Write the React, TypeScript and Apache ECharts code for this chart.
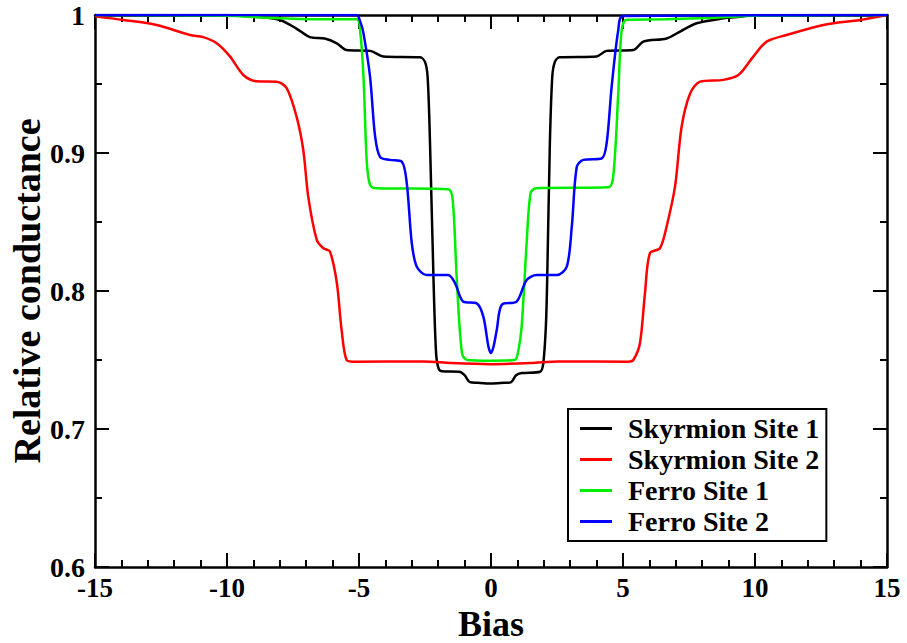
import React, { useEffect, useRef } from "react";
import * as echarts from "echarts";

const seriesNames = ["Skyrmion Site 1", "Skyrmion Site 2", "Ferro Site 1", "Ferro Site 2"];
const seriesColors = ["#000000", "#ff0000", "#00ee00", "#0000ff"];
const xTicks = [-15, -10, -5, 0, 5, 10, 15];
const yTicks = [0.6, 0.7, 0.8, 0.9, 1];

const skyrmion1: [number, number][] = [
  [-15, 1], [-10, 1], [-9, 0.9988], [-8, 0.9964], [-7.36, 0.99], [-6.86, 0.984], [-6.3, 0.983],
  [-5.84, 0.9795], [-5.47, 0.9746], [-4.58, 0.974], [-4.08, 0.97], [-2.69, 0.9693], [-2.5, 0.966],
  [-2.4, 0.955], [-2.31, 0.907], [-2.18, 0.81], [-2.08, 0.755], [-1.98, 0.7435], [-1.85, 0.7418],
  [-1.2, 0.7415], [-1.0, 0.739], [-0.8, 0.734], [-0.5, 0.7335], [0, 0.733], [0.5, 0.7335],
  [0.75, 0.7338], [0.95, 0.739], [1.16, 0.7405], [1.86, 0.7415], [1.98, 0.7476], [2.08, 0.775],
  [2.13, 0.81], [2.23, 0.907], [2.32, 0.955], [2.42, 0.966], [2.6, 0.9693], [4.0, 0.97],
  [4.38, 0.974], [5.39, 0.9746], [5.77, 0.9807], [6.65, 0.983], [7.16, 0.988], [7.79, 0.994],
  [8.8, 0.9976], [9.43, 0.9988], [10, 1], [15, 1],
];

const skyrmion2: [number, number][] = [
  [-15, 0.999], [-13.93, 0.9964], [-12.67, 0.9928], [-11.4, 0.9855], [-10.9, 0.984], [-10.39, 0.9795],
  [-9.89, 0.97], [-9.38, 0.9565], [-8.88, 0.952], [-8.12, 0.9517], [-7.74, 0.947], [-7.36, 0.926],
  [-7.11, 0.902], [-6.92, 0.868], [-6.6, 0.837], [-6.35, 0.831], [-6.1, 0.8285], [-5.84, 0.806],
  [-5.66, 0.772], [-5.47, 0.75], [-5.2, 0.7488], [-2.56, 0.749], [-1.5, 0.7478], [0, 0.747],
  [1.5, 0.7478], [2.56, 0.749], [5.2, 0.7488], [5.39, 0.75], [5.64, 0.762], [5.83, 0.798],
  [6.02, 0.8275], [6.4, 0.831], [6.65, 0.8466], [6.97, 0.8756], [7.22, 0.919], [7.54, 0.943],
  [7.92, 0.9517], [8.8, 0.953], [9.37, 0.9565], [9.94, 0.97], [10.44, 0.9807], [11.2, 0.9855],
  [12.59, 0.9928], [13.98, 0.9964], [15, 1],
];

const ferro1: [number, number][] = [
  [-15, 1], [-10, 0.9995], [-8.5, 0.998], [-6.6, 0.9969], [-5.08, 0.9969], [-4.96, 0.989],
  [-4.83, 0.955], [-4.71, 0.895], [-4.6, 0.878], [-4.45, 0.8747], [-1.62, 0.8737], [-1.45, 0.866],
  [-1.3, 0.81], [-1.1, 0.755], [-0.9, 0.75], [0, 0.7495], [0.9, 0.75], [1.02, 0.755], [1.16, 0.774],
  [1.35, 0.8346], [1.5, 0.871], [1.7, 0.8744], [4.44, 0.8751], [4.63, 0.883], [4.82, 0.943],
  [4.95, 0.989], [5.14, 0.9966], [6.6, 0.9969], [8.5, 0.998], [10, 0.9995], [15, 1],
];

const ferro2: [number, number][] = [
  [-15, 1], [-5.1, 1], [-4.95, 0.995], [-4.83, 0.9867], [-4.58, 0.955], [-4.39, 0.912], [-4.2, 0.897],
  [-3.83, 0.895], [-3.38, 0.8937], [-3.19, 0.878], [-3.0, 0.8346], [-2.81, 0.8176], [-2.44, 0.8116],
  [-1.62, 0.8116], [-1.36, 0.8056], [-1.05, 0.7923], [-0.54, 0.791], [-0.29, 0.7814], [-0.1, 0.76],
  [0, 0.755], [0.1, 0.76], [0.22, 0.772], [0.41, 0.79], [0.97, 0.7923], [1.35, 0.808], [1.73, 0.8116],
  [2.49, 0.8116], [2.87, 0.8176], [3.06, 0.8466], [3.25, 0.89], [3.5, 0.895], [4.19, 0.896],
  [4.38, 0.907], [4.57, 0.948], [4.82, 0.989], [5.0, 0.9993], [15, 1],
];

const seriesData = [skyrmion1, skyrmion2, ferro1, ferro2];

const FONT = "Liberation Serif, Times New Roman, serif";

export default function App() {
  const ref = useRef<HTMLDivElement>(null);
  useEffect(() => {
    if (!ref.current) return;
    const chart = echarts.init(ref.current, null, { renderer: "svg" });
    const axisLine = { show: true, onZero: false, lineStyle: { color: "#000", width: 2.5 } };
    const tick = { show: true, inside: true, length: 14, lineStyle: { color: "#000", width: 2 } };
    const minor = (n: number) => ({ show: true, splitNumber: n, length: 7, lineStyle: { color: "#000", width: 2 } });
    const labelStyle = { fontFamily: FONT, fontWeight: "bold" as const, fontSize: 28, color: "#000" };
    const xBase = { type: "value" as const, min: xTicks[0], max: xTicks[xTicks.length - 1], interval: 5 };
    const yBase = { type: "value" as const, min: yTicks[0], max: yTicks[yTicks.length - 1], interval: 0.1 };
    chart.setOption({
      animation: false,
      backgroundColor: "#fff",
      textStyle: { fontFamily: FONT },
      grid: { left: 95, right: 20, top: 15, bottom: 76, containLabel: false, outerBoundsMode: "none" },
      xAxis: [
        {
          ...xBase,
          position: "bottom",
          name: "Bias",
          nameLocation: "middle",
          nameGap: 41,
          nameMoveOverlap: false,
          nameTextStyle: { fontFamily: FONT, fontWeight: "bold", fontSize: 36, lineHeight: 32, color: "#000" },
          axisLine,
          axisTick: tick,
          minorTick: minor(5),
          splitLine: { show: false },
          axisLabel: {
            ...labelStyle,
            fontSize: 27,
            lineHeight: 26,
            margin: 8,
            formatter: (v: number) => String(Math.round(v)),
          },
        },
        {
          ...xBase,
          position: "top",
          axisLine,
          axisTick: tick,
          minorTick: minor(5),
          splitLine: { show: false },
          axisLabel: { show: false },
        },
      ],
      yAxis: [
        {
          ...yBase,
          position: "left",
          name: "Relative conductance",
          nameLocation: "middle",
          nameGap: 49,
          nameMoveOverlap: false,
          nameTextStyle: { fontFamily: FONT, fontWeight: "bold", fontSize: 38, color: "#000" },
          axisLine,
          axisTick: tick,
          minorTick: minor(2),
          splitLine: { show: false },
          axisLabel: {
            ...labelStyle,
            margin: 10,
            formatter: (v: number) => (Math.abs(v - 1) < 1e-6 ? "1" : v.toFixed(1)),
          },
        },
        {
          ...yBase,
          position: "right",
          axisLine,
          axisTick: tick,
          minorTick: minor(2),
          splitLine: { show: false },
          axisLabel: { show: false },
        },
      ],
      legend: {
        orient: "vertical",
        left: 568,
        top: 409,
        padding: [5, 7, 5, 12],
        borderColor: "#000",
        borderWidth: 2,
        backgroundColor: "#fff",
        itemWidth: 32,
        itemHeight: 3,
        itemGap: 2,
        icon: "rect",
        data: seriesNames,
        textStyle: {
          fontFamily: FONT,
          fontWeight: "bold",
          fontSize: 28,
          color: "#000",
          lineHeight: 29,
          padding: [0, 0, 0, 11],
        },
      },
      series: seriesNames.map((name, i) => ({
        name,
        type: "line",
        data: seriesData[i],
        showSymbol: false,
        symbol: "none",
        smooth: 0.3,
        color: seriesColors[i],
        lineStyle: { color: seriesColors[i], width: 2.5 },
        z: 2 + i,
      })),
    });
    return () => chart.dispose();
  }, []);
  return (
    <div
      ref={ref}
      style={{ position: "fixed", left: 0, top: 0, width: 907, height: 643, background: "#fff" }}
    />
  );
}
